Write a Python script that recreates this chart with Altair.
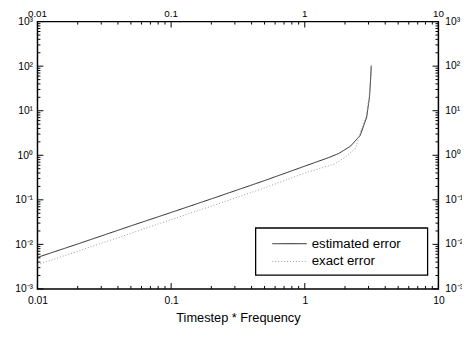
import json
import altair as alt
import pandas as pd

# ---- data ----
SERIES = ["estimated error", "exact error"]
EST_X = [0.01, 0.02, 0.05, 0.1, 0.2, 0.5, 1.0, 1.5, 1.8, 2.2, 2.6, 2.9, 3.05, 3.12, 3.14]
EST_Y = [0.0051, 0.0102, 0.026, 0.052, 0.105, 0.27, 0.57, 0.88, 1.1, 1.6, 2.8, 7.0, 20.0, 60.0, 100.0]
EXA_X = [0.01, 0.02, 0.05, 0.1, 0.2, 0.5, 1.0, 1.66, 2.0, 2.4, 2.62, 2.9, 3.05, 3.12, 3.14]
EXA_Y = [0.0035, 0.007, 0.0177, 0.036, 0.072, 0.185, 0.40, 0.63, 0.9, 1.43, 3.5, 8.0, 25.0, 70.0, 110.0]

X_MAJOR = [0.01, 0.1, 1, 10]
X_LABELS = ["0.01", "0.1", "1", "10"]
X_MINOR = [m * d for d in [0.01, 0.1, 1] for m in range(2, 10)]
Y_MAJOR = [1e-3, 1e-2, 1e-1, 1e0, 1e1, 1e2, 1e3]
Y_LABELS = ["10\u207b\u00b3", "10\u207b\u00b2", "10\u207b\u00b9", "10\u2070", "10\u00b9", "10\u00b2", "10\u00b3"]
Y_MINOR = [m * d for d in [1e-3, 1e-2, 1e-1, 1, 10, 100] for m in range(2, 10)]

W, H = 408, 272
FONT = "Liberation Sans"
COLORS = ["#222222", "#9a9a9a"]

rows = [{"x": x, "y": y, "series": SERIES[0]} for x, y in zip(EST_X, EST_Y)]
rows += [{"x": x, "y": y, "series": SERIES[1]} for x, y in zip(EXA_X, EXA_Y)]
df = pd.DataFrame(rows)

xs = alt.Scale(type="log", domain=[0.01, 10])
ys = alt.Scale(type="log", domain=[1e-3, 1e3])

ylabel_expr = "%s[round(log(datum.value)/LN10)+3]" % json.dumps(Y_LABELS)

X_AXIS = alt.Axis(values=X_MAJOR, format="~g", title="Timestep * Frequency",
                  ticks=False, domain=False, grid=False, labelPadding=7,
                  titlePadding=6, labelFlush=False)
Y_AXIS = alt.Axis(values=Y_MAJOR, labelExpr=ylabel_expr, title=None,
                  ticks=False, domain=False, grid=False, labelPadding=5,
                  labelFlush=False)

X = lambda: alt.X("x:Q", scale=xs, axis=X_AXIS)
Y = lambda: alt.Y("y:Q", scale=ys, axis=Y_AXIS)

lines = alt.Chart(df).mark_line(strokeWidth=1, clip=True).encode(
    x=X(), y=Y(),
    color=alt.Color("series:N", scale=alt.Scale(domain=SERIES, range=COLORS), legend=None),
    strokeDash=alt.StrokeDash("series:N", scale=alt.Scale(domain=SERIES, range=[[1, 0], [1, 2]]), legend=None),
)

def xticks(vals, length):
    d = pd.DataFrame({"x": vals})
    base = alt.Chart(d).mark_rule(color="black", strokeWidth=1)
    bot = base.encode(x=X(), y=alt.value(H), y2=alt.value(H - length))
    top = base.encode(x=X(), y=alt.value(0), y2=alt.value(length))
    return [bot, top]

def yticks(vals, length):
    d = pd.DataFrame({"y": vals})
    base = alt.Chart(d).mark_rule(color="black", strokeWidth=1)
    lft = base.encode(y=Y(), x=alt.value(0), x2=alt.value(length))
    rgt = base.encode(y=Y(), x=alt.value(W), x2=alt.value(W - length))
    return [lft, rgt]

top_labels = alt.Chart(pd.DataFrame({"x": X_MAJOR, "t": X_LABELS})).mark_text(
    font=FONT, fontSize=10, color="black", baseline="bottom", dy=-3
).encode(x=X(), y=alt.value(0), text="t:N")

right_labels = alt.Chart(pd.DataFrame({"y": Y_MAJOR, "t": Y_LABELS})).mark_text(
    font=FONT, fontSize=10.5, color="black", align="left", baseline="middle", dx=7
).encode(y=Y(), x=alt.value(W), text="t:N")

# ---- legend (drawn as a boxed key in the lower right) ----
LX0, LX1, LY0, LY1 = 222, 397, 210, 258
leg_box = alt.Chart(pd.DataFrame({"k": [0]})).mark_rect(
    fill="white", stroke="black", strokeWidth=1.3
).encode(x=alt.value(LX0), x2=alt.value(LX1), y=alt.value(LY0), y2=alt.value(LY1))

leg_layers = [leg_box]
for i, (name, col, dash) in enumerate(zip(SERIES, COLORS, [[1, 0], [1, 2]])):
    yy = LY0 + 16 + 18 * i
    d = pd.DataFrame({"t": [name]})
    leg_layers.append(alt.Chart(d).mark_rule(color=col, strokeWidth=1, strokeDash=dash).encode(
        x=alt.value(LX0 + 17), x2=alt.value(LX0 + 52), y=alt.value(yy)))
    leg_layers.append(alt.Chart(d).mark_text(
        font=FONT, fontSize=13.5, color="black", align="left", baseline="middle"
    ).encode(x=alt.value(LX0 + 57), y=alt.value(yy), text="t:N"))

layers = ([lines] + xticks(X_MAJOR, 6) + xticks(X_MINOR, 3) + yticks(Y_MAJOR, 6)
          + yticks(Y_MINOR, 3) + [top_labels, right_labels] + leg_layers)

chart = alt.layer(*layers).properties(
    width=W, height=H,
    autosize=alt.AutoSizeParams(type="none"),
    padding={"left": 30, "top": 11, "right": 24, "bottom": 42},
    background="white",
).configure_view(stroke="black", strokeWidth=1.5).configure_axis(
    labelFont=FONT, labelFontSize=10.5, labelColor="black",
    titleFont=FONT, titleFontSize=13, titleColor="black", titleFontWeight="normal",
)

chart.save("out.html", embed_options={"renderer": "svg", "actions": False})
